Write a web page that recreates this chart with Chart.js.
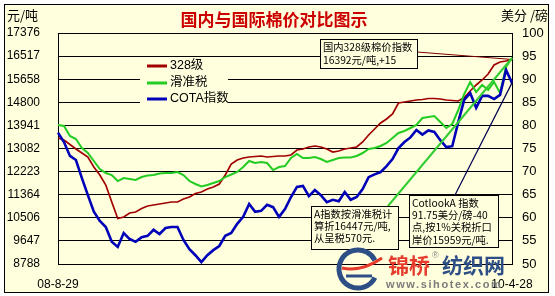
<!DOCTYPE html>
<html>
<head>
<meta charset="utf-8">
<script src="https://cdn.jsdelivr.net/npm/chart.js@4.4.1/dist/chart.umd.min.js"></script>
<style>
  html, body { margin: 0; padding: 0; background: #fff; }
  #wrap { width: 555px; height: 296px; }
</style>
</head>
<body>
<div id="wrap"><canvas id="cotton" width="555" height="296"></canvas></div>
<script>
// dates (about every 8 days), only first and last are printed
const dates = [
  '08-8-29','08-9-6','08-9-14','08-9-22','08-9-30','08-10-8','08-10-16','08-10-24','08-11-1','08-11-9',
  '08-11-17','08-11-25','08-12-3','08-12-11','08-12-19','08-12-27','09-1-4','09-1-12','09-1-20','09-1-28',
  '09-2-5','09-2-13','09-2-21','09-3-1','09-3-9','09-3-17','09-3-25','09-4-2','09-4-10','09-4-18',
  '09-4-26','09-5-4','09-5-12','09-5-20','09-5-28','09-6-5','09-6-13','09-6-21','09-6-29','09-7-7',
  '09-7-15','09-7-23','09-7-31','09-8-8','09-8-16','09-8-24','09-9-1','09-9-9','09-9-17','09-9-25',
  '09-10-3','09-10-11','09-10-19','09-10-27','09-11-4','09-11-12','09-11-20','09-11-28','09-12-6','09-12-14',
  '09-12-22','09-12-30','10-1-7','10-1-15','10-1-23','10-1-31','10-2-8','10-2-16','10-2-24','10-3-4',
  '10-3-12','10-3-20','10-3-28','10-4-5','10-4-13','10-4-21','10-4-28'
];

// 328级 (元/吨)
const grade328 = [
  13472,13398,13230,13063,12914,12766,12394,12096,11725,11093,
  10479,10535,10684,10721,10851,10944,10981,11018,11055,11093,
  11093,11204,11278,11409,11464,11576,11650,11762,12096,12505,
  12654,12728,12766,12784,12803,12766,12784,12803,12803,12840,
  13026,13063,13137,13175,13137,13063,12952,12989,13063,13100,
  13137,13323,13584,13807,14030,14179,14364,14773,14811,14848,
  14885,14904,14941,14941,14922,14885,14866,14848,14978,15220,
  15443,15629,15852,16186,16298,16335,16392
];

// 滑准税 (元/吨)
const slidingTax = [
  13955,13918,13546,13435,13100,12914,12617,12320,12171,12096,
  11873,11985,11948,11911,12022,12078,12096,12152,12171,12171,
  12208,12096,11873,11762,11669,11725,11799,11873,12022,12115,
  12208,12394,12617,12543,12580,12543,12282,12394,12431,12728,
  12877,12728,12728,12766,12691,12580,12654,12728,12747,12747,
  12803,12914,13063,13100,13175,13286,13472,13658,13732,13844,
  13955,14216,14253,14290,14067,13844,13993,14513,15108,15554,
  15182,15443,15257,15554,15145,16112,16447
];

// COTA指数 (美分/磅)
const cotaIndex = [
  78.4,76.4,73.4,72.5,68.6,64.9,61.3,59.3,58.0,54.8,
  53.7,56.7,55.4,54.8,55.8,56.1,57.4,56.5,57.8,58.0,
  58.0,55.2,53.2,51.9,50.4,51.9,53.0,53.9,56.1,56.7,
  58.7,60.2,63.0,61.3,61.5,62.8,62.3,60.2,61.9,64.5,
  66.7,66.9,64.7,66.0,64.9,63.4,63.9,63.6,65.6,63.9,
  64.5,66.2,68.8,69.4,69.9,71.2,72.7,75.1,76.4,77.4,
  79.0,78.0,78.9,78.6,76.8,75.3,75.5,80.7,85.5,87.0,
  83.8,86.4,86.4,85.7,86.6,92.0,89.2
];

const leftTicks = [8788, 9647, 10506, 11364, 12223, 13082, 13941, 14800, 15658, 16517, 17376];
const rightTicks = [50, 55, 60, 65, 70, 75, 80, 85, 90, 95, 100];

const BG = '#FFFFDE';
const LAT = '"Liberation Sans", "Noto Sans CJK SC", sans-serif';
const CJK = '"Noto Sans CJK SC", "Liberation Sans", sans-serif';

const notes = [
  { box: [320.5, 39.5, 97, 29], from: [417, 52], ds: 0, color: '#800000', w: 1,
    lines: ['国内328级棉价指数', '16392元/吨,+15'], ys: [47, 60] },
  { box: [311.5, 206.5, 87, 43], from: [388, 206], ds: 1, color: '#33CC33', w: 2,
    lines: ['A指数按滑准税计', '算折16447元/吨,', '从呈税570元.'], ys: [214, 226, 238] },
  { box: [409.5, 195.5, 89, 52], from: [455, 195], ds: 2, color: '#000050', w: 1.2,
    lines: ['CotlookA 指数', '91.75美分/磅-40', '点,按1%关税折口', '岸价15959元/吨.'], ys: [203, 215, 227, 240] }
];

const decor = {
  id: 'decor',
  beforeDraw(chart) {
    const ctx = chart.ctx;
    ctx.save();
    ctx.fillStyle = '#fff';
    ctx.fillRect(0, 0, chart.width, chart.height);
    ctx.fillStyle = BG;
    ctx.fillRect(4.5, 4.5, 544, 288);
    ctx.strokeStyle = '#000';
    ctx.lineWidth = 1;
    ctx.strokeRect(4.5, 4.5, 544, 288);

    ctx.fillStyle = '#CC0000';
    ctx.font = 'bold 17px ' + CJK;
    ctx.textAlign = 'center';
    ctx.textBaseline = 'middle';
    ctx.fillText('国内与国际棉价对比图示', 274, 20);

    ctx.fillStyle = '#000';
    ctx.font = '13px ' + CJK;
    ctx.textAlign = 'left';
    ctx.fillText('元/吨', 7, 15);
    ctx.fillText('美分 /磅', 501, 15);
    ctx.restore();
  },
  afterDraw(chart) {
    const ctx = chart.ctx;
    ctx.save();

    // legend inside the plot
    ctx.fillStyle = BG;
    ctx.fillRect(140, 60, 88, 48);
    const ly = [66, 83, 99];
    chart.data.datasets.forEach((ds, i) => {
      ctx.strokeStyle = ds.borderColor;
      ctx.lineWidth = 3;
      ctx.beginPath();
      ctx.moveTo(147, ly[i]);
      ctx.lineTo(167, ly[i]);
      ctx.stroke();
      ctx.fillStyle = '#000';
      ctx.font = '12.5px ' + LAT;
      ctx.textAlign = 'left';
      ctx.textBaseline = 'middle';
      ctx.fillText(ds.label, 170, ly[i]);
    });

    // callouts
    notes.forEach(n => {
      const meta = chart.getDatasetMeta(n.ds);
      const last = meta.data[meta.data.length - 1];
      ctx.strokeStyle = n.color;
      ctx.lineWidth = n.w;
      ctx.beginPath();
      ctx.moveTo(n.from[0], n.from[1]);
      ctx.lineTo(last.x, last.y);
      ctx.stroke();

      const [bx, by, bw, bh] = n.box;
      ctx.fillStyle = BG;
      ctx.fillRect(bx, by, bw, bh);
      ctx.strokeStyle = '#000';
      ctx.lineWidth = 1;
      ctx.strokeRect(bx, by, bw, bh);
      ctx.fillStyle = '#000';
      ctx.font = '10.3px ' + CJK;
      ctx.textAlign = 'left';
      ctx.textBaseline = 'middle';
      n.lines.forEach((t, i) => ctx.fillText(t, bx + 2.5, n.ys[i]));
    });

    // site watermark
    ctx.strokeStyle = '#2D4F86';
    ctx.lineWidth = 5;
    ctx.beginPath();
    ctx.arc(358, 269, 19, 0.15 * Math.PI, 1.85 * Math.PI);
    ctx.stroke();
    ctx.lineWidth = 3;
    ctx.beginPath();
    ctx.moveTo(346, 276);
    ctx.lineTo(372, 276);
    ctx.stroke();
    ctx.strokeStyle = '#E53B2C';
    ctx.lineWidth = 3;
    ctx.beginPath();
    ctx.moveTo(342, 268);
    ctx.quadraticCurveTo(362, 272, 382, 258);
    ctx.stroke();

    ctx.textBaseline = 'middle';
    ctx.font = 'bold 21px ' + CJK;
    ctx.fillStyle = '#E53B2C';
    ctx.fillText('锦桥', 388, 265);
    ctx.fillStyle = '#2D4F86';
    ctx.fillText('纺织网', 442, 265);
    ctx.font = '9px ' + LAT;
    ctx.fillStyle = '#888';
    ctx.fillText('®', 432, 256);
    ctx.font = 'bold 11px ' + LAT;
    ctx.fillStyle = '#7A7A7A';
    ctx.letterSpacing = '1.6px';
    ctx.fillText('www.sihotex.com', 386, 285);
    ctx.restore();
  }
};

new Chart(document.getElementById('cotton').getContext('2d'), {
  type: 'line',
  data: {
    labels: dates,
    datasets: [
      { label: '328级', data: grade328, yAxisID: 'y', borderColor: '#A00000', borderWidth: 1.7, order: 3 },
      { label: '滑准税', data: slidingTax, yAxisID: 'y', borderColor: '#22CC22', borderWidth: 2, order: 2 },
      { label: 'COTA指数', data: cotaIndex, yAxisID: 'y1', borderColor: '#0000B8', borderWidth: 2.6, order: 1 }
    ]
  },
  options: {
    responsive: false,
    animation: false,
    devicePixelRatio: 1,
    layout: { padding: { top: 33, left: 0, right: 0, bottom: 0 } },
    elements: { point: { radius: 0 }, line: { tension: 0 } },
    plugins: { legend: { display: false }, tooltip: { enabled: false } },
    scales: {
      x: {
        type: 'category',
        grid: { display: false, drawTicks: false },
        border: { display: false },
        ticks: {
          autoSkip: false, maxRotation: 0, minRotation: 0, padding: 13,
          color: '#000', font: { family: LAT, size: 12 },
          callback: (v, i) => (i === 0 || i === dates.length - 1) ? dates[i] : ''
        },
        afterFit: s => { s.height = 32; }
      },
      y: {
        position: 'left', min: 8788, max: 17376,
        afterBuildTicks: s => { s.ticks = leftTicks.map(v => ({ value: v })); },
        grid: { color: '#000', lineWidth: 1, drawTicks: false },
        border: { display: true, color: '#000', width: 1 },
        ticks: { padding: 18, color: '#000', font: { family: LAT, size: 12 }, callback: v => String(v) },
        afterFit: s => { s.width = 58; }
      },
      y1: {
        position: 'right', min: 50, max: 100,
        afterBuildTicks: s => { s.ticks = rightTicks.map(v => ({ value: v })); },
        grid: { display: false, drawTicks: false },
        border: { display: true, color: '#000', width: 1 },
        ticks: { padding: 10, color: '#000', font: { family: LAT, size: 13 }, callback: v => String(v) },
        afterFit: s => { s.width = 43; }
      }
    }
  },
  plugins: [decor]
});
</script>
</body>
</html>
